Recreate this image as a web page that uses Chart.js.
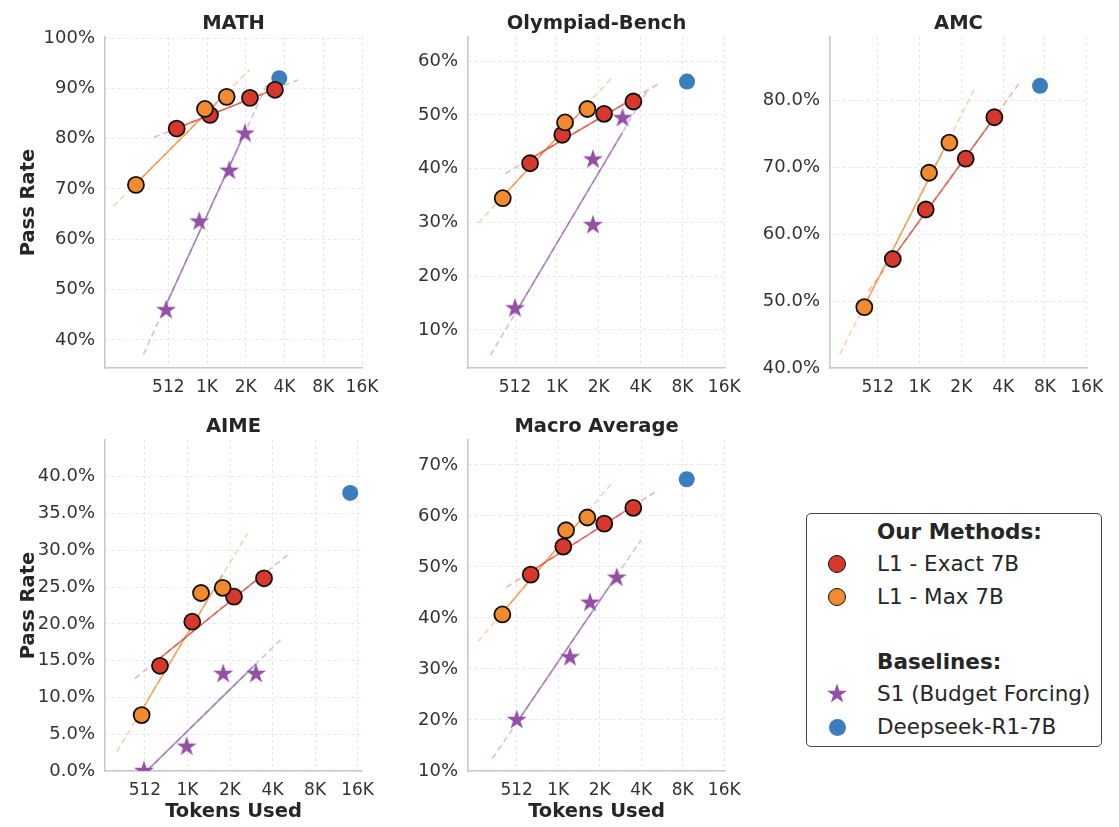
<!DOCTYPE html>
<html>
<head>
<meta charset="utf-8">
<script src="https://cdn.jsdelivr.net/npm/chart.js@4.4.1/dist/chart.umd.min.js"></script>
<style>
  html, body { margin: 0; padding: 0; background: #fff; overflow: hidden; }
  #wrap { position: relative; width: 1119px; height: 827px; overflow: hidden; font-family: 'DejaVu Sans', sans-serif; }
  #wrap canvas { position: absolute; }
  .legend { position: absolute; left: 806px; top: 513px; width: 296px; height: 234px; box-sizing: border-box;
            border: 1.3px solid #444; border-radius: 5px; background: #fff; }
  .legend .row { position: absolute; left: 70px; height: 26px; line-height: 26px; font-size: 21.5px; color: #262626; white-space: nowrap; }
  .legend .hd { font-weight: bold; }
  .legend .mk { position: absolute; box-sizing: border-box; border-radius: 50%; }
  .legend svg { position: absolute; }
</style>
</head>
<body>
<div id="wrap">
  <div class="legend" id="legend"></div>
</div>
<script>
// ---- data (tokens used, pass rate in %) ----
const panelTitles = ['MATH', 'Olympiad-Bench', 'AMC', 'AIME', 'Macro Average'];
const seriesNames = ['L1 - Exact 7B', 'L1 - Max 7B', 'S1 (Budget Forcing)', 'Deepseek-R1-7B'];
const xTickValues = [512, 1024, 2048, 4096, 8192, 16384];

const mathExactX = [595, 1080, 2207, 3453];
const mathExactY = [82.0, 84.7, 88.1, 89.7];
const mathMaxX = [287, 987, 1455];
const mathMaxY = [70.8, 85.9, 88.3];
const mathS1X = [492, 891, 1525, 2018];
const mathS1Y = [45.9, 63.5, 73.6, 81.0];
const mathR1X = [3730];
const mathR1Y = [92.0];
const mathYTicks = [40, 50, 60, 70, 80, 90, 100];

const olyExactX = [657, 1120, 2240, 3640];
const olyExactY = [41.0, 46.3, 50.2, 52.5];
const olyMaxX = [418, 1173, 1698];
const olyMaxY = [34.5, 48.6, 51.1];
const olyS1X = [512, 1860, 1860, 3040];
const olyS1Y = [14.0, 41.7, 29.5, 49.4];
const olyR1X = [8850];
const olyR1Y = [56.2];
const olyYTicks = [10, 20, 30, 40, 50, 60];

const amcExactX = [657, 1135, 2202, 3540];
const amcExactY = [56.3, 63.7, 71.3, 77.5];
const amcMaxX = [410, 1199, 1679];
const amcMaxY = [49.1, 69.2, 73.7];
const amcS1X = [];
const amcS1Y = [];
const amcR1X = [7550];
const amcR1Y = [82.2];
const amcYTicks = [40, 50, 60, 70, 80];

const aimeExactX = [654, 1107, 2186, 3566];
const aimeExactY = [14.3, 20.3, 23.7, 26.2];
const aimeMaxX = [485, 1277, 1818];
const aimeMaxY = [7.6, 24.2, 24.9];
const aimeS1X = [504, 1010, 1834, 3130];
const aimeS1Y = [0.0, 3.3, 13.2, 13.2];
const aimeR1X = [14520];
const aimeR1Y = [37.8];
const aimeYTicks = [0, 5, 10, 15, 20, 25, 30, 35, 40];

const avgExactX = [647, 1115, 2210, 3590];
const avgExactY = [48.5, 54.0, 58.5, 61.6];
const avgMaxX = [403, 1167, 1665];
const avgMaxY = [40.7, 57.2, 59.7];
const avgS1X = [512, 1247, 1742, 2720];
const avgS1Y = [20.0, 32.3, 43.0, 47.9];
const avgR1X = [8760];
const avgR1Y = [67.2];
const avgYTicks = [10, 20, 30, 40, 50, 60, 70];

// ---- styling ----
const FONT = "'DejaVu Sans', sans-serif";
const RED = '#d6392b', ORANGE = '#f28a2e', PURPLE = '#944fa6', BLUE = '#3b7dbd';
const redA = a => `rgba(214,70,60,${a})`;
const orangeA = a => `rgba(242,140,50,${a})`;
const purpleA = a => `rgba(150,100,170,${a})`;

function makeStar(color, R) {
  const c = document.createElement('canvas');
  const s = 2 * Math.ceil(R + 1);
  c.width = s; c.height = s;
  const g = c.getContext('2d');
  g.beginPath();
  for (let i = 0; i < 10; i++) {
    const r = i % 2 === 0 ? R : R * 0.382;
    const a = -Math.PI / 2 + i * Math.PI / 5;
    g.lineTo(s / 2 + r * Math.cos(a), s / 2 + r * Math.sin(a));
  }
  g.closePath();
  g.fillStyle = color;
  g.fill();
  return c;
}
const starImg = makeStar(PURPLE, 10.5);

function pts(xs, ys) { return xs.map((x, i) => ({ x: x, y: ys[i] })); }

// least squares fit of pass rate against log2(tokens)
function fitLine(xs, ys, lo, hi) {
  const lx = xs.map(v => Math.log2(v));
  const n = lx.length;
  const mx = lx.reduce((a, b) => a + b, 0) / n;
  const my = ys.reduce((a, b) => a + b, 0) / n;
  let sxy = 0, sxx = 0;
  lx.forEach((v, i) => { sxy += (v - mx) * (ys[i] - my); sxx += (v - mx) * (v - mx); });
  const b = sxy / sxx, a = my - b * mx;
  return [lo, hi].map(x => ({ x: x, y: a + b * Math.log2(x) }));
}

function trendSets(xs, ys, col) {
  if (xs.length < 2) return [];
  const lo = Math.min(...xs), hi = Math.max(...xs);
  return [
    { data: fitLine(xs, ys, lo / 1.5, hi * 1.5), showLine: true, borderColor: col(0.4),
      borderWidth: 1.6, borderDash: [6, 4], pointRadius: 0, order: 6 },
    { data: fitLine(xs, ys, lo, hi), showLine: true, borderColor: col(0.75),
      borderWidth: 1.6, pointRadius: 0, order: 5 }
  ];
}

function panel(i, left, top, s) {
  const cv = document.createElement('canvas');
  cv.width = 467; cv.height = 424;
  cv.style.left = left + 'px';
  cv.style.top = top + 'px';
  document.getElementById('wrap').appendChild(cv);

  const datasets = [
    { label: seriesNames[1], data: pts(s.maxX, s.maxY), pointRadius: 8, pointBackgroundColor: ORANGE,
      pointBorderColor: '#111', pointBorderWidth: 1.8, order: 0 },
    { label: seriesNames[0], data: pts(s.exX, s.exY), pointRadius: 8, pointBackgroundColor: RED,
      pointBorderColor: '#111', pointBorderWidth: 1.8, order: 1 },
    { label: seriesNames[2], data: pts(s.s1X, s.s1Y), pointStyle: starImg, pointRadius: 10, order: 2 },
    { label: seriesNames[3], data: pts(s.r1X, s.r1Y), pointRadius: 8, pointBackgroundColor: BLUE,
      pointBorderWidth: 0, order: 3 }
  ].concat(trendSets(s.exX, s.exY, redA), trendSets(s.maxX, s.maxY, orangeA), trendSets(s.s1X, s.s1Y, purpleA));

  const yTickFont = { family: FONT, size: 18 };
  const xTickFont = { family: FONT, size: 17 };
  const labFont = { family: FONT, size: 19.5, weight: 'bold' };

  new Chart(cv, {
    type: 'scatter',
    data: { datasets: datasets },
    options: {
      responsive: false, animation: false, devicePixelRatio: 1, events: [],
      layout: { padding: 0 },
      plugins: {
        legend: { display: false }, tooltip: { enabled: false },
        title: { display: true, text: panelTitles[i], color: '#262626', font: labFont,
                 padding: { top: 12.6, bottom: 1.0 } }
      },
      scales: {
        x: {
          type: 'logarithmic', min: s.xmin, max: s.xmax, bounds: 'data',
          afterBuildTicks: sc => { sc.ticks = xTickValues.filter(v => v >= sc.min && v <= sc.max).map(v => ({ value: v })); },
          afterFit: sc => { sc.height = 56; },
          ticks: { autoSkip: false, maxRotation: 0, padding: 9, color: '#333', font: xTickFont,
                   callback: v => v >= 1024 ? (v / 1024) + 'K' : String(v) },
          grid: { color: '#e0e0e0', lineWidth: 0.8, drawTicks: false },
          border: { display: true, color: '#c8c8c8', width: 1.6, dash: [3, 3] },
          title: { display: s.showX, text: 'Tokens Used', color: '#262626', font: labFont,
                   padding: { top: 0, bottom: 3 } }
        },
        y: {
          type: 'linear', min: s.ymin, max: s.ymax, bounds: 'data',
          afterBuildTicks: sc => { sc.ticks = s.yTicks.map(v => ({ value: v })); },
          afterFit: sc => { sc.width = 105; },
          ticks: { padding: 10, color: '#333', font: yTickFont,
                   callback: v => v.toFixed(s.dec) + '%' },
          grid: { color: '#e0e0e0', lineWidth: 0.8, drawTicks: false },
          border: { display: true, color: '#c8c8c8', width: 1.6, dash: [3, 3] },
          title: { display: s.showY, text: 'Pass Rate', color: '#262626', font: labFont,
                   padding: { top: 17, bottom: 0 } }
        },
        // empty right-hand box so the title centres over the plot area
        pad: {
          type: 'linear', position: 'right', display: true,
          afterFit: sc => { sc.width = 105; },
          ticks: { display: false }, grid: { display: false }, border: { display: false }
        }
      }
    }
  });
}

panel(0, 0, 0, { exX: mathExactX, exY: mathExactY, maxX: mathMaxX, maxY: mathMaxY, s1X: mathS1X, s1Y: mathS1Y,
  r1X: mathR1X, r1Y: mathR1Y, yTicks: mathYTicks, xmin: 165, xmax: 16384, ymin: 34.4, ymax: 100.2, dec: 0,
  showX: false, showY: true });
panel(1, 363, 0, { exX: olyExactX, exY: olyExactY, maxX: olyMaxX, maxY: olyMaxY, s1X: olyS1X, s1Y: olyS1Y,
  r1X: olyR1X, r1Y: olyR1Y, yTicks: olyYTicks, xmin: 235, xmax: 16600, ymin: 2.9, ymax: 64.5, dec: 0,
  showX: false, showY: false });
panel(2, 725, 0, { exX: amcExactX, exY: amcExactY, maxX: amcMaxX, maxY: amcMaxY, s1X: amcS1X, s1Y: amcS1Y,
  r1X: amcR1X, r1Y: amcR1Y, yTicks: amcYTicks, xmin: 232, xmax: 16450, ymin: 40, ymax: 89.5, dec: 1,
  showX: false, showY: false });
panel(3, 0, 403, { exX: aimeExactX, exY: aimeExactY, maxX: aimeMaxX, maxY: aimeMaxY, s1X: aimeS1X, s1Y: aimeS1Y,
  r1X: aimeR1X, r1Y: aimeR1Y, yTicks: aimeYTicks, xmin: 267, xmax: 17600, ymin: 0, ymax: 45, dec: 1,
  showX: true, showY: true });
panel(4, 363, 403, { exX: avgExactX, exY: avgExactY, maxX: avgMaxX, maxY: avgMaxY, s1X: avgS1X, s1Y: avgS1Y,
  r1X: avgR1X, r1Y: avgR1Y, yTicks: avgYTicks, xmin: 227, xmax: 16600, ymin: 10, ymax: 74.9, dec: 0,
  showX: true, showY: false });

// ---- legend box ----
(function () {
  const lg = document.getElementById('legend');
  const rows = [
    { text: 'Our Methods:', hd: true, cy: 18 },
    { text: seriesNames[0], cy: 50, mk: 'dot', fill: RED },
    { text: seriesNames[1], cy: 83, mk: 'dot', fill: ORANGE },
    { text: 'Baselines:', hd: true, cy: 148 },
    { text: seriesNames[2], cy: 180, mk: 'star' },
    { text: seriesNames[3], cy: 213, mk: 'blue' }
  ];
  rows.forEach(r => {
    const d = document.createElement('div');
    d.className = 'row' + (r.hd ? ' hd' : '');
    d.style.top = (r.cy - 13) + 'px';
    d.textContent = r.text;
    lg.appendChild(d);
    if (r.mk === 'dot' || r.mk === 'blue') {
      const m = document.createElement('span');
      m.className = 'mk';
      const sz = r.mk === 'dot' ? 18 : 17;
      m.style.width = sz + 'px'; m.style.height = sz + 'px';
      m.style.left = (30 - sz / 2) + 'px'; m.style.top = (r.cy - sz / 2) + 'px';
      m.style.background = r.mk === 'dot' ? r.fill : BLUE;
      if (r.mk === 'dot') m.style.border = '1.8px solid #111';
      lg.appendChild(m);
    } else if (r.mk === 'star') {
      const ns = 'http://www.w3.org/2000/svg';
      const sv = document.createElementNS(ns, 'svg');
      sv.setAttribute('width', 24); sv.setAttribute('height', 24);
      sv.style.left = '18px'; sv.style.top = (r.cy - 12) + 'px';
      let p = '';
      for (let i = 0; i < 10; i++) {
        const rr = i % 2 === 0 ? 10.5 : 10.5 * 0.382;
        const a = -Math.PI / 2 + i * Math.PI / 5;
        p += (12 + rr * Math.cos(a)).toFixed(2) + ',' + (12 + rr * Math.sin(a)).toFixed(2) + ' ';
      }
      const poly = document.createElementNS(ns, 'polygon');
      poly.setAttribute('points', p.trim());
      poly.setAttribute('fill', PURPLE);
      sv.appendChild(poly);
      lg.appendChild(sv);
    }
  });
})();
</script>
</body>
</html>
